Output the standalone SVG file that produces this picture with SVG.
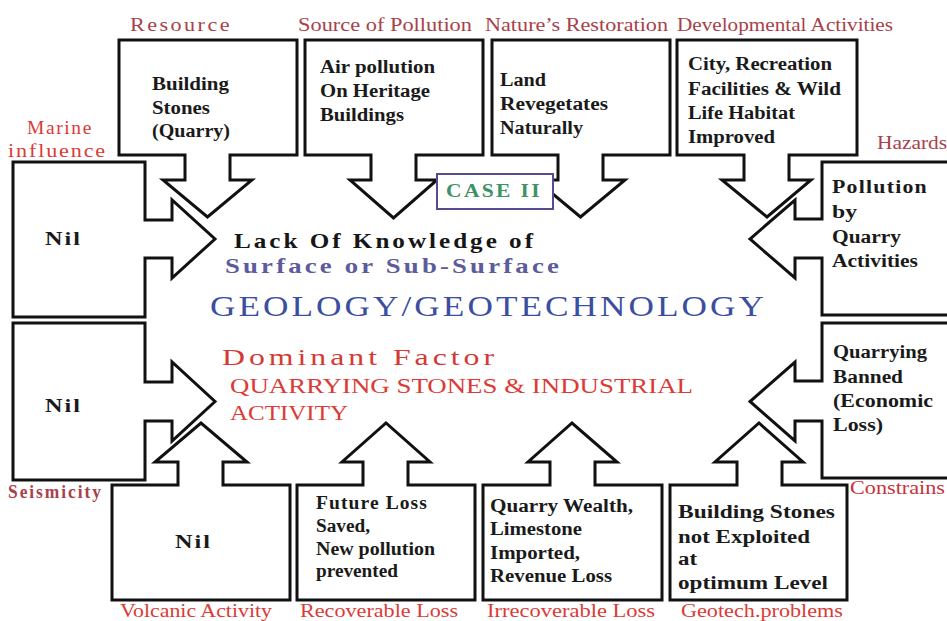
<svg xmlns="http://www.w3.org/2000/svg" width="947" height="621" viewBox="0 0 947 621">
  <style>
    text { font-family: "Liberation Serif", "DejaVu Serif", serif; }
    .callout { fill: #ffffff; stroke: #111111; stroke-width: 3; stroke-linejoin: miter; }
    .box { font-size: 18px; font-weight: bold; fill: #1a1a1a; }
    .lbl { font-size: 18px; fill: #a8414a; }
    .lbl-red { font-size: 18px; fill: #db3b36; }
  </style>

  <rect x="0" y="0" width="947" height="621" fill="#ffffff"/>

  <!-- Top row: callouts pointing down -->
  <g id="resource">
    <path class="callout" d="M119 40 H297 V155 H230 V180 H252 L207.5 217 L163 180 H185 V155 H119 Z"/>
    <text class="lbl" x="130" y="31" letter-spacing="2" textLength="102" lengthAdjust="spacingAndGlyphs">Resource</text>
    <text class="box" x="152" y="90" textLength="77" lengthAdjust="spacingAndGlyphs">Building</text>
    <text class="box" x="152" y="114" textLength="58" lengthAdjust="spacingAndGlyphs">Stones</text>
    <text class="box" x="152" y="137" textLength="78" lengthAdjust="spacingAndGlyphs">(Quarry)</text>
  </g>

  <g id="source-of-pollution">
    <path class="callout" d="M305 40 H483 V155 H416 V180 H437 L393.5 218 L350 180 H371 V155 H305 Z"/>
    <text class="lbl" x="298" y="31" textLength="174" lengthAdjust="spacingAndGlyphs">Source of Pollution</text>
    <text class="box" x="320" y="73" textLength="115" lengthAdjust="spacingAndGlyphs">Air pollution</text>
    <text class="box" x="320" y="97" textLength="110" lengthAdjust="spacingAndGlyphs">On Heritage</text>
    <text class="box" x="320" y="121" textLength="84" lengthAdjust="spacingAndGlyphs">Buildings</text>
  </g>

  <g id="natures-restoration">
    <path class="callout" d="M492 40 H670 V155 H603 V180 H625 L580.5 217 L536 180 H558 V155 H492 Z"/>
    <text class="lbl" x="485" y="31" textLength="183" lengthAdjust="spacingAndGlyphs">Nature’s Restoration</text>
    <text class="box" x="500" y="86" textLength="46" lengthAdjust="spacingAndGlyphs">Land</text>
    <text class="box" x="500" y="110" textLength="108" lengthAdjust="spacingAndGlyphs">Revegetates</text>
    <text class="box" x="500" y="134" textLength="83" lengthAdjust="spacingAndGlyphs">Naturally</text>
  </g>

  <g id="developmental-activities">
    <path class="callout" d="M677 40 H857 V155 H789 V180 H811 L767 217 L722 180 H744 V155 H677 Z"/>
    <text class="lbl" x="677" y="31" textLength="216" lengthAdjust="spacingAndGlyphs">Developmental Activities</text>
    <text class="box" x="688" y="70" textLength="144" lengthAdjust="spacingAndGlyphs">City, Recreation</text>
    <text class="box" x="688" y="95" textLength="153" lengthAdjust="spacingAndGlyphs">Facilities &amp; Wild</text>
    <text class="box" x="688" y="119" textLength="107" lengthAdjust="spacingAndGlyphs">Life Habitat</text>
    <text class="box" x="688" y="143" textLength="87" lengthAdjust="spacingAndGlyphs">Improved</text>
  </g>

  <!-- Left column: callouts pointing right -->
  <g id="marine-influence">
    <path class="callout" d="M13 162 H145 V220 H172 V200 L215 239 L172 278 V258 H145 V317 H13 Z"/>
    <text class="lbl-red" x="27" y="134" letter-spacing="1.5" textLength="66" lengthAdjust="spacingAndGlyphs">Marine</text>
    <text class="lbl-red" x="8" y="157" letter-spacing="1.5" textLength="99" lengthAdjust="spacingAndGlyphs">influence</text>
    <text class="box" x="45" y="245" letter-spacing="1.5" textLength="37" lengthAdjust="spacingAndGlyphs">Nil</text>
  </g>

  <g id="seismicity">
    <path class="callout" d="M13 323 H145 V382 H172 V362 L215 401.5 L172 441 V421 H145 V480 H13 Z"/>
    <text class="lbl" x="8" y="498" font-size="15" font-weight="bold" letter-spacing="2" textLength="95" lengthAdjust="spacingAndGlyphs">Seismicity</text>
    <text class="box" x="45" y="412" letter-spacing="1.5" textLength="37" lengthAdjust="spacingAndGlyphs">Nil</text>
  </g>

  <!-- Right column: callouts pointing left -->
  <g id="hazards">
    <path class="callout" d="M955 162 H822 V219 H795 V200 L750 239 L795 278 V258 H822 V315 H955"/>
    <text class="lbl" x="877" y="149" textLength="70" lengthAdjust="spacingAndGlyphs">Hazards</text>
    <text class="box" x="832" y="193" letter-spacing="1" textLength="96" lengthAdjust="spacingAndGlyphs">Pollution</text>
    <text class="box" x="832" y="218" textLength="25" lengthAdjust="spacingAndGlyphs">by</text>
    <text class="box" x="832" y="243" textLength="69" lengthAdjust="spacingAndGlyphs">Quarry</text>
    <text class="box" x="832" y="267" textLength="86" lengthAdjust="spacingAndGlyphs">Activities</text>
  </g>

  <g id="constrains">
    <path class="callout" d="M955 323 H822 V381 H795 V362 L750 401.5 L795 441 V421 H822 V478 H955"/>
    <text class="lbl" x="850" y="494" style="fill:#c8323a" textLength="95" lengthAdjust="spacingAndGlyphs">Constrains</text>
    <text class="box" x="833" y="358" textLength="94" lengthAdjust="spacingAndGlyphs">Quarrying</text>
    <text class="box" x="833" y="383" textLength="70" lengthAdjust="spacingAndGlyphs">Banned</text>
    <text class="box" x="833" y="407" textLength="100" lengthAdjust="spacingAndGlyphs">(Economic</text>
    <text class="box" x="833" y="431" textLength="50" lengthAdjust="spacingAndGlyphs">Loss)</text>
  </g>

  <!-- Bottom row: callouts pointing up -->
  <g id="volcanic-activity">
    <path class="callout" d="M112 600 H290 V485 H223 V462 H247 L201 423 L155 462 H178 V485 H112 Z"/>
    <text class="lbl-red" x="120" y="617" textLength="152" lengthAdjust="spacingAndGlyphs">Volcanic Activity</text>
    <text class="box" x="175" y="548" letter-spacing="1.5" textLength="37" lengthAdjust="spacingAndGlyphs">Nil</text>
  </g>

  <g id="recoverable-loss">
    <path class="callout" d="M297 600 H475 V485 H408 V462 H430 L386 423 L342 462 H363 V485 H297 Z"/>
    <text class="lbl-red" x="300" y="617" textLength="158" lengthAdjust="spacingAndGlyphs">Recoverable Loss</text>
    <text class="box" x="316" y="509" font-size="17" letter-spacing="1" textLength="112" lengthAdjust="spacingAndGlyphs">Future Loss</text>
    <text class="box" x="316" y="532" font-size="17" textLength="54" lengthAdjust="spacingAndGlyphs">Saved,</text>
    <text class="box" x="316" y="555" font-size="17" textLength="119" lengthAdjust="spacingAndGlyphs">New pollution</text>
    <text class="box" x="316" y="577" font-size="17" textLength="82" lengthAdjust="spacingAndGlyphs">prevented</text>
  </g>

  <g id="irrecoverable-loss">
    <path class="callout" d="M483 600 H662 V485 H595 V462 H617 L572 423 L528 462 H550 V485 H483 Z"/>
    <text class="lbl-red" x="487" y="617" textLength="168" lengthAdjust="spacingAndGlyphs">Irrecoverable Loss</text>
    <text class="box" x="490" y="512" textLength="143" lengthAdjust="spacingAndGlyphs">Quarry Wealth,</text>
    <text class="box" x="490" y="535" textLength="92" lengthAdjust="spacingAndGlyphs">Limestone</text>
    <text class="box" x="490" y="559" textLength="90" lengthAdjust="spacingAndGlyphs">Imported,</text>
    <text class="box" x="490" y="582" textLength="122" lengthAdjust="spacingAndGlyphs">Revenue Loss</text>
  </g>

  <g id="geotech-problems">
    <path class="callout" d="M670 600 H847 V485 H782 V462 H803 L759 423 L715 462 H737 V485 H670 Z"/>
    <text class="lbl-red" x="681" y="617" textLength="162" lengthAdjust="spacingAndGlyphs">Geotech.problems</text>
    <text class="box" x="678" y="518" textLength="157" lengthAdjust="spacingAndGlyphs">Building Stones</text>
    <text class="box" x="678" y="543" textLength="132" lengthAdjust="spacingAndGlyphs">not Exploited</text>
    <text class="box" x="678" y="565" textLength="19" lengthAdjust="spacingAndGlyphs">at</text>
    <text class="box" x="678" y="589" textLength="150" lengthAdjust="spacingAndGlyphs">optimum Level</text>
  </g>

  <!-- Case tag -->
  <g id="case-ii">
    <rect x="437" y="174" width="116" height="35" fill="#ffffff" stroke="#5b4b8c" stroke-width="2"/>
    <text x="446" y="197" font-size="18" font-weight="bold" fill="#3f9264" letter-spacing="2" textLength="96" lengthAdjust="spacingAndGlyphs">CASE II</text>
  </g>

  <!-- Central statement -->
  <g id="core">
    <text x="234" y="248" font-size="21" font-weight="bold" fill="#161616" letter-spacing="2.5" textLength="302" lengthAdjust="spacingAndGlyphs">Lack Of Knowledge of</text>
    <text x="225" y="273" font-size="21" font-weight="bold" fill="#5d5b9c" letter-spacing="2.5" textLength="337" lengthAdjust="spacingAndGlyphs">Surface or Sub-Surface</text>
    <text x="210" y="316" font-size="29" fill="#3b4ea1" letter-spacing="2.5" textLength="557" lengthAdjust="spacingAndGlyphs">GEOLOGY/GEOTECHNOLOGY</text>
    <text x="222" y="365" font-size="24" fill="#d33a36" letter-spacing="3" textLength="276" lengthAdjust="spacingAndGlyphs">Dominant Factor</text>
    <text x="230" y="393" font-size="21" fill="#dc3a36" textLength="463" lengthAdjust="spacingAndGlyphs">QUARRYING STONES &amp; INDUSTRIAL</text>
    <text x="230" y="420" font-size="21" fill="#dc3a36" textLength="118" lengthAdjust="spacingAndGlyphs">ACTIVITY</text>
  </g>

  <!-- No separate connectors: each arrow is part of its callout outline -->
  <g id="connectors"/>
</svg>
